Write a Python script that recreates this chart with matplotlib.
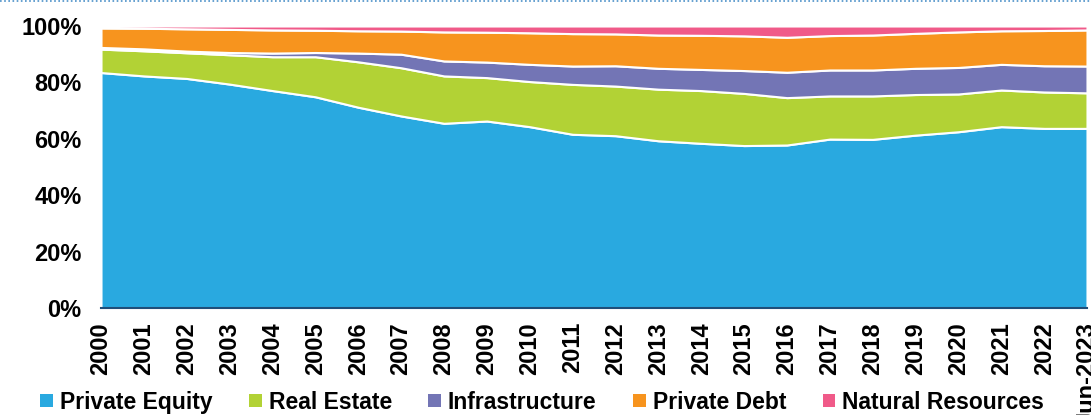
import matplotlib
matplotlib.use("Agg")
import matplotlib.pyplot as plt
from matplotlib.patches import Patch
from matplotlib.lines import Line2D
from matplotlib.ticker import FuncFormatter

plt.rcParams['font.family'] = ['Liberation Sans', 'DejaVu Sans']

years = ["2000", "2001", "2002", "2003", "2004", "2005", "2006", "2007", "2008",
         "2009", "2010", "2011", "2012", "2013", "2014", "2015", "2016", "2017",
         "2018", "2019", "2020", "2021", "2022", "Jun-2023"]

private_equity = [83.5, 82.3, 81.4, 79.4, 77.1, 74.9, 71.2, 68.1, 65.5, 66.3, 64.3, 61.6,
                  61.1, 59.3, 58.4, 57.6, 57.8, 59.9, 59.8, 61.3, 62.5, 64.3, 63.7, 63.7]
real_estate = [8.3, 8.9, 9.1, 10.4, 12.0, 14.2, 16.1, 17.1, 16.8, 15.4, 16.0, 17.7,
               17.6, 18.3, 18.7, 18.5, 16.8, 15.3, 15.4, 14.4, 13.4, 13.0, 12.9, 12.6]
infrastructure = [0.6, 0.7, 0.6, 0.8, 1.3, 1.5, 3.1, 4.8, 5.3, 5.5, 6.1, 6.5,
                  7.2, 7.4, 7.5, 8.1, 9.0, 9.2, 9.2, 9.3, 9.4, 9.1, 9.3, 9.5]
private_debt = [6.9, 7.3, 7.9, 8.2, 8.2, 7.9, 7.9, 8.2, 10.3, 10.6, 11.2, 11.5,
                11.3, 11.8, 12.1, 12.3, 12.4, 12.2, 12.4, 12.4, 12.6, 11.9, 12.5, 12.8]
natural_resources = [0.7, 0.8, 1.0, 1.2, 1.4, 1.5, 1.7, 1.8, 2.1, 2.2, 2.4, 2.7,
                     2.8, 3.2, 3.3, 3.5, 4.0, 3.4, 3.2, 2.6, 2.1, 1.7, 1.6, 1.4]

series_names = ["Private Equity", "Real Estate", "Infrastructure", "Private Debt", "Natural Resources"]
colors = ["#29A9E0", "#B2D235", "#7375B5", "#F7941E", "#F05A89"]

fig = plt.figure(figsize=(10.91, 4.15), dpi=100)
ax = fig.add_axes([101/1091, 1-308/415, (1087-101)/1091, (308-26)/415])

x = list(range(len(years)))
ax.stackplot(x, private_equity, real_estate, infrastructure, private_debt, natural_resources,
             colors=colors, edgecolor="white", linewidth=1.5, labels=series_names)

ax.set_xlim(0, len(years) - 1)
ax.set_ylim(0, 100)
ax.set_yticks([0, 20, 40, 60, 80, 100])
ax.yaxis.set_major_formatter(FuncFormatter(lambda v, p: f"{int(v)}%"))
ax.set_xticks(x)
ax.set_xticklabels(years, rotation=90, fontsize=17, fontweight="bold")
for lab in ax.get_yticklabels():
    lab.set_fontsize(17)
    lab.set_fontweight("bold")
ax.tick_params(axis="both", length=0)
ax.tick_params(axis="x", pad=10)
ax.tick_params(axis="y", pad=14)
for s in ["top", "right", "left"]:
    ax.spines[s].set_visible(False)
ax.spines["bottom"].set_color("#1F4E79")
ax.spines["bottom"].set_linewidth(1.5)
ax.spines["bottom"].set_zorder(5)

handles = [Patch(facecolor=c, edgecolor="none") for c in colors]
fig.legend(handles, series_names, loc="center", bbox_to_anchor=(0.497, 0.031), ncol=5,
           frameon=False, prop={"size": 16.5, "weight": "bold"},
           handlelength=0.55, handleheight=0.55, handletextpad=0.3, columnspacing=1.6)

fig.add_artist(Line2D([0, 1], [0.998, 0.998], transform=fig.transFigure,
                      color="#4A90C8", linestyle=(0, (1, 1.5)), linewidth=1.2))

fig.savefig("out.png", dpi=100)
